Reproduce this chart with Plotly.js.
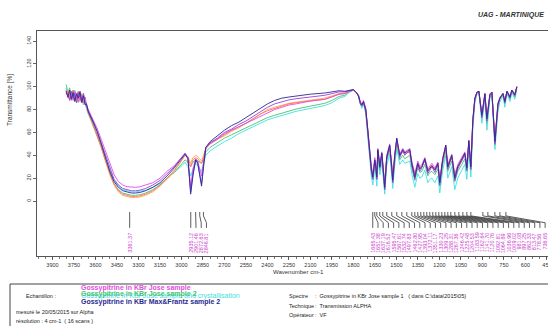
<!DOCTYPE html>
<html><head><meta charset="utf-8">
<script src="https://cdn.plot.ly/plotly-3.0.1.min.js"></script>
<style>html,body{margin:0;padding:0;background:#fff;overflow:hidden;width:548px;height:326px}#g{width:562px;height:326px}</style>
</head><body><div id="g"></div>
<script>
// Wavenumbers (cm-1), shared by all spectra
const wavenumbers = [3805,3792,3780,3768,3756,3744,3732,3720,3708,3696,3684,3672,3662,
3650,3620,3590,3560,3530,3500,3470,3440,3410,3380,3350,3320,3290,3250,3200,3150,3100,3050,3020,2995,2975,2955,2936,2920,2901,2887,2873,2860,2846,2830,2800,2750,2700,2650,2600,2550,2500,2450,2400,2350,2300,2250,2200,2100,2000,1950,1900,1860,1830,1800,1780,
1765,1752,1742,1730,1714,1700,1686,1675,1665,1651,1644,1637,1630,1616,1602,1592,1582,1568,1547,1533,1526,1512,1498,1477,1456,1442,1428,1407,1393,1372,1351,1337,1323,1302,1281,1267,1253,1232,1211,1198,1177,1156,1142,1114,1093,1072,1044,1023,1009,995,981,967,953,939,925,904,883,869,848,834,813,792,778,757,744,729,708,695,674,660];

const tNavy = [96,91,97,89,95,87,94,90,96,86,92,84,85,
78,70,61,50,38,26,17,12,9,8,7,7,7.5,9,12,16,22,29,34,38,41,37,6,22,36,33,22,13,30,47,52,57,62,66,69,73,77,81,85,88,90,91,92,93.5,94.5,95.5,96.5,96,97,97.5,95,
92,86,84,87,80,62,40,28,21,36,30,21,45,30,42,28,12,39,49,30,18,40,55,40,45,42,43,45,33,21,33,28,30,37,26,29,31,27,33,16,37,49,30,40,20,30,37,42,29,53,30,71,90,95,96,75,94,72,93,95,52,85,90,94,87,96,91,97,93,100];

const tPurple = [95,93,88,96,90,94,86,95,91,88,94,85,83,
79,71,62,51,40,28,19,14,11,10,9,9,9.5,11,14,18,24,30,35,39,42,38,8,24,36,34,24,15,32,47,51,55,60,63,67,70,74,78,82,85,87,88.5,89.5,91,92.5,94,95.5,95.5,96.5,97.5,95,
92,85,83,86,79,60,38,26,19,35,28,19,44,29,41,26,10,37,48,28,16,39,54,38,44,40,42,44,31,19,32,26,29,36,24,27,30,25,32,14,36,48,28,39,18,28,36,41,27,52,28,70,89,95,96,73,93,70,93,95,50,84,90,94,86,96,90,97,92,100];

const tMagenta = [97,90,95,92,88,96,93,87,95,90,86,91,84,
80,72,64,54,43,32,23,17,14,12.5,12,12,12.5,14,16,20,26,31,35,38,41,38,12,28,37,35,28,22,34,46,50,54,59,62,65,68,71,74,77,80,82,84,85,87.5,89,91,93.5,94,96,97,95,
93,87,85,88,81,63,42,30,24,38,32,24,46,33,43,30,15,40,50,32,21,41,55,41,46,43,44,46,35,24,35,30,32,38,28,31,33,29,34,19,38,49,32,41,23,32,38,43,31,53,33,72,90,95,96,76,94,73,94,95,54,86,91,94,88,96,92,97,94,100];

const tSalmon = [94,96,89,93,97,88,92,95,87,93,89,86,82,
78,69,59,48,36,24,15,9,6,5,4,4,4.5,6,9,14,20,27,32,36,40,38,30,36,38,37,35,33,38,46,50,54,58,62,65,68,72,76,79,81,83,85,86,87.5,89,91,93.5,94,96,97,95,
92,86,85,87,80,61,39,27,22,35,30,22,43,31,40,29,14,37,47,31,20,38,52,40,43,41,42,43,33,23,32,29,30,35,27,29,30,28,32,18,35,46,30,38,22,30,35,40,30,50,31,70,89,95,96,75,93,72,93,95,53,84,90,94,87,96,91,97,93,100];

const tOrange = [93,97,91,88,95,92,86,96,90,94,85,88,83,
77,68,58,47,35,23,14,8,5,4,3,3,3.5,5,8,13,19,26,31,36,40,39,33,38,40,39,37,35,40,47,51,54,57,61,64,68,72,76,80,82,84,85.5,86.5,88.5,90,92,94,94.5,96.5,97.5,95,
92,86,84,87,80,62,41,29,23,36,31,23,44,31,41,29,15,38,48,31,21,39,53,40,44,42,42,44,33,24,33,29,31,36,27,30,31,28,33,19,36,47,31,39,23,31,36,41,31,51,32,71,90,95,96,76,94,73,93,95,54,85,90,94,88,96,91,97,93,100];

const tGreen = [102,95,99,91,97,93,89,96,92,87,94,88,84,
77,68,58,47,35,24,15,10,7,6,5,5,5.5,7,10,14,20,25,29,33,36,34,30,34,36,35,34,33,36,43,47,51,55,58,61,64,67,70,73,75,77,79,80.5,83,85.5,88,91.5,92.5,95.5,97,95,
92,85,83,86,78,59,37,25,19,33,27,19,41,27,38,25,10,35,45,27,16,36,50,36,40,37,38,40,29,18,29,25,26,32,22,25,26,23,28,13,32,44,26,35,17,26,32,37,26,48,27,68,88,94,96,73,92,68,92,94,49,82,89,93,85,95,89,96,91,99];

const tCyan = [99,92,96,88,93,97,90,86,94,89,84,87,80,
76,67,58,48,37,27,18,13,10,9,8,8,8.5,9.5,12,15,20,25,28,31,34,30,22,28,33,31,28,26,33,40,44,48,52,55,59,62,65,68,71,73,75,77,78.5,81,83.5,86,90,91.5,95,97,95,
91,84,81,85,76,56,33,21,14,29,22,13,37,23,34,20,6,31,41,22,11,31,46,32,36,33,34,35,24,12,24,20,21,27,16,19,20,16,22,7,27,40,20,30,10,20,27,32,19,44,21,64,86,93,95,68,90,62,90,93,45,78,87,92,82,94,87,95,89,98];

// Peak picks (cm-1)
const peaks = [3361.37,2935.12,2901.46,2872.63,2846.81,
1665.43,1651.38,1637.19,1616.52,1595.47,1567.61,1532.74,1497.83,1462.80,1427.95,1393.04,1372.11,1351.17,1330.23,1309.25,1288.31,1267.36,1246.42,1225.48,1204.53,1183.59,1162.64,1141.70,1120.76,1092.81,1064.89,1036.96,1009.02,981.08,897.25,862.33,813.47,778.56,736.65];

const xTicks = [3900,3750,3600,3450,3300,3150,3000,2850,2700,2550,2400,2250,2100,1950,1800,1650,1500,1350,1200,1050,900,750,600,450];
const yTicks = [0,20,40,60,80,100,120,140];

const series = [
  {name:'Gossypitrine cyan', y:tCyan, c:'#3fe0e0'},
  {name:'Gossypitrine green', y:tGreen, c:'#44c474'},
  {name:'Gossypitrine orange', y:tOrange, c:'#ffa83c'},
  {name:'Gossypitrine salmon', y:tSalmon, c:'#ff6e6e'},
  {name:'Gossypitrine magenta', y:tMagenta, c:'#e04ee0'},
  {name:'Gossypitrine purple', y:tPurple, c:'#9a3de0'},
  {name:'Gossypitrine navy', y:tNavy, c:'#2a2a92'}
];

const FONT = 'Liberation Sans, Arial, sans-serif';
const traces = series.map(s => ({type:'scatter', mode:'lines', x:wavenumbers, y:s.y, name:s.name,
  line:{color:s.c, width:0.9}, hoverinfo:'skip'}));

// peak label layout: labels spread so they don't overlap
const gap = 36.45;
const labelPos = [];
peaks.forEach((p,i)=>{ labelPos.push(i===0 ? p : Math.min(p, labelPos[i-1]-gap)); });
const lx=[], ly=[];
peaks.forEach((p,i)=>{ lx.push(p,p,labelPos[i],labelPos[i],null); ly.push(-9.6,-13,-19,-23.5,null); });
traces.push({type:'scatter', mode:'lines', x:lx, y:ly, line:{color:'#333', width:0.8}, hoverinfo:'skip', showlegend:false});

const L=37, R=560, T=31, B=256;
const PX = px => (px-L)/(R-L);
const PY = py => (B-py)/(B-T);

const annotations = peaks.map((p,i)=>({x:labelPos[i], y:-26.2, xref:'x', yref:'y', text:p.toFixed(2),
  textangle:-90, showarrow:false, xanchor:'center', yanchor:'top', font:{family:FONT, size:5.5, color:'#cc3fcc'}}));

function txt(t, px, py, opts){
  return Object.assign({text:t, x:PX(px), y:PY(py), xref:'paper', yref:'paper', showarrow:false,
    xanchor:'left', yanchor:'middle', font:{family:FONT, size:6, color:'#222'}}, opts||{});
}
const small = {family:FONT, size:5.5, color:'#222'};
annotations.push(
  txt('<b><i>UAG - MARTINIQUE</i></b>', 476, 15, {font:{family:FONT, size:7, color:'#333'}}),
  txt('Transmittance [%]', 10, 100, {textangle:-90, xanchor:'center', font:{family:FONT, size:6.5, color:'#333'}}),
  txt('Wavenumber cm-1', 298, 272, {xanchor:'center', font:{family:FONT, size:6, color:'#333'}}),
  txt('Echantillon :', 24, 296, {font:small}),
  txt('<b>Gossypitrine in KBr Jose sample</b>', 79, 288, {font:{family:FONT, size:7, color:'#e04ee0'}}),
  txt('Gossypitrine in KBr Jose sample and crystallisation', 79, 295.5, {font:{family:FONT, size:7, color:'#3fe0e0'}}),
  txt('<b>Gossypitrine in KBr Jose sample 2</b>', 79, 294, {font:{family:FONT, size:7, color:'#44c474'}}),
  txt('<b>Gossypitrine in KBr Max&amp;Frantz sample 2</b>', 79, 302, {font:{family:FONT, size:7, color:'#2a2a92'}}),
  txt('mesuré le 20/05/2015 sur Alpha', 14, 312, {font:small}),
  txt('résolution : 4 cm-1  ( 16 scans )', 14, 321, {font:small}),
  txt('Spectre', 287, 296, {font:small}),
  txt(':  Gossypitrine in KBr Jose sample 1   ( dans C:\\data\\2015\\05)', 313, 296, {font:small}),
  txt('Technique', 287, 306, {font:small}),
  txt(':  Transmission ALPHA', 313, 306, {font:small}),
  txt('Opérateur', 287, 315, {font:small}),
  txt(':  VF', 313, 315, {font:small})
);

const layout = {
  width:562, height:326, margin:{l:L, r:562-R, t:T, b:326-B},
  paper_bgcolor:'#fff', plot_bgcolor:'#fff', showlegend:false,
  font:{family:FONT, size:6, color:'#333'},
  xaxis:{range:[4008,359], tickvals:xTicks, ticktext:xTicks.map(String), ticks:'outside', ticklen:3, tickwidth:0.8,
    tickcolor:'#444', showgrid:false, zeroline:false, showline:true, mirror:true, linecolor:'#555', linewidth:1,
    tickfont:{family:FONT, size:5.5, color:'#333'},
    minor:{dtick:50, tick0:0, ticks:'outside', ticklen:2, tickcolor:'#555', showgrid:false}},
  yaxis:{range:[-48.1,148.75], tickvals:yTicks, ticktext:yTicks.map(String), tickangle:-90, ticks:'outside', ticklen:3,
    tickwidth:0.8, tickcolor:'#444', showgrid:false, zeroline:false, showline:true, mirror:true, linecolor:'#555', linewidth:1,
    tickfont:{family:FONT, size:5.5, color:'#333'}},
  shapes:[{type:'rect', xref:'paper', yref:'paper', x0:PX(10), x1:PX(600), y0:PY(345), y1:PY(284), line:{color:'#444', width:1}}],
  annotations:annotations
};
Plotly.newPlot('g', traces, layout, {staticPlot:true, displayModeBar:false});
</script></body></html>
